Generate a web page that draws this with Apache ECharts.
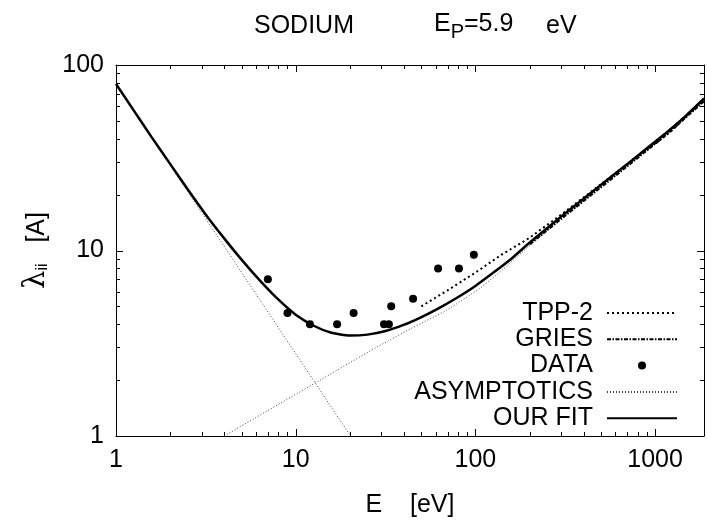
<!DOCTYPE html>
<html><head><meta charset="utf-8">
<script src="https://cdn.jsdelivr.net/npm/echarts@6/dist/echarts.min.js"></script>
<style>html,body{margin:0;padding:0;background:#fff}#c{width:707px;height:523px}</style>
</head><body><div id="c"></div>
<script>
// ---- data ----
const fitE = [1, 1.26, 1.585, 2.0, 2.51, 3.16, 3.98, 5.01, 6.31, 7.94, 10, 12.6, 15.8, 20, 25.1, 31.6, 39.8, 50.1, 63.1, 79.4, 100, 126, 158, 200, 319, 489, 748, 1146, 1480, 1871];
const fitL = [79, 56.6, 40.6, 29.3, 21.3, 15.6, 11.7, 8.9, 6.9, 5.48, 4.51, 3.93, 3.60, 3.48, 3.52, 3.68, 3.97, 4.38, 4.91, 5.58, 6.44, 7.6, 9.0, 11.0, 16.0, 22.2, 30.8, 42.9, 53, 66];
const tppE = [50, 70, 100, 140, 200, 300, 500, 800, 1200, 1871];
const tppL = [5.0, 6.1, 7.6, 9.5, 11.7, 15.6, 22.8, 32, 43, 65];
const griesE = [200, 319, 489, 748, 1146, 1871];
const griesL = [10.9, 15.7, 21.8, 30.3, 42.3, 64.5];
const dataE = [7, 9, 12, 17, 21, 31, 33, 34, 45, 62, 81, 98];
const dataL = [7.0, 4.6, 4.0, 4.0, 4.6, 4.0, 4.0, 5.0, 5.5, 8.0, 8.0, 9.5];
const asymLowE = [1, 20.2];
const asymLowL = [79, 1];
const asymHighE = [4, 28, 45, 69, 105, 140, 200, 319, 489, 748, 1146, 1871];
const asymHighL = [1, 3.0, 3.85, 4.75, 6.2, 7.8, 10.6, 15.5, 21.7, 30.2, 42.3, 65];
const xMajor = [1, 10, 100, 1000];
const xMinor = [2,3,4,5,6,7,8,9,20,30,40,50,60,70,80,90,200,300,400,500,600,700,800,900];
const yMajor = [1, 10, 100];
const yMinor = [2,3,4,5,6,7,8,9,20,30,40,50,60,70,80,90];
const xMin = 1, xMax = 1871, yMin = 1, yMax = 100;

const pairs = (xs, ys) => xs.map((x, i) => [x, ys[i]]);
const F = '"Liberation Sans", Arial, Helvetica, sans-serif';
const BLACK = '#000';

// tick marks (drawn through the axes' own scales)
const tickData = []
  .concat(xMajor.map(v => [v, yMin, 0, 1]))
  .concat(xMinor.map(v => [v, yMin, 0, 0]))
  .concat(yMajor.map(v => [xMin, v, 1, 1]))
  .concat(yMinor.map(v => [xMin, v, 1, 0]));

function renderTick(params, api) {
  const isY = api.value(2) === 1;
  const len = api.value(3) === 1 ? 7 : 4;
  const style = { stroke: BLACK, lineWidth: 1 };
  if (!isY) {
    const v = api.value(0);
    const b = api.coord([v, yMin]);
    const t = api.coord([v, yMax]);
    const x = Math.round(b[0]) + 0.5;
    return { type: 'group', children: [
      { type: 'line', shape: { x1: x, y1: b[1], x2: x, y2: b[1] - len }, style },
      { type: 'line', shape: { x1: x, y1: t[1], x2: x, y2: t[1] + len }, style }
    ] };
  } else {
    const v = api.value(1);
    const l = api.coord([xMin, v]);
    const r = api.coord([xMax, v]);
    const y = Math.round(l[1]) + 0.5;
    return { type: 'group', children: [
      { type: 'line', shape: { x1: l[0], y1: y, x2: l[0] + len, y2: y }, style },
      { type: 'line', shape: { x1: r[0], y1: y, x2: r[0] - len, y2: y }, style }
    ] };
  }
}

function xAx(pos, withLabels) {
  return {
    type: 'log', logBase: 10, min: xMin, max: xMax, position: pos,
    axisLine: { show: true, lineStyle: { color: BLACK, width: 1 } },
    axisTick: { show: false },
    axisLabel: { show: withLabels, fontSize: 25, color: BLACK, fontFamily: F, margin: 12,
                 formatter: v => (xMajor.indexOf(v) >= 0 ? String(v) : '') },
    splitLine: { show: false }, minorTick: { show: false }
  };
}
function yAx(pos, withLabels) {
  return {
    type: 'log', logBase: 10, min: yMin, max: yMax, position: pos,
    axisLine: { show: true, lineStyle: { color: BLACK, width: 1 } },
    axisTick: { show: false },
    axisLabel: { show: withLabels, fontSize: 25, color: BLACK, fontFamily: F, margin: 12,
                 formatter: v => (yMajor.indexOf(v) >= 0 ? String(v) : '') },
    splitLine: { show: false }, minorTick: { show: false }
  };
}

const xAxes = [xAx('bottom', true), xAx('top', false)];
xAxes[0].name = 'E    [eV]';
xAxes[0].nameLocation = 'middle';
xAxes[0].nameGap = 57;
xAxes[0].nameTextStyle = { fontSize: 25, color: BLACK, fontFamily: F };
const yAxes = [yAx('left', true), yAx('right', false)];
yAxes[0].name = '{l|λ}{s|ii}   [A]';
yAxes[0].nameLocation = 'middle';
yAxes[0].nameRotate = 90;
yAxes[0].nameGap = 62;
yAxes[0].nameTextStyle = { fontSize: 25, color: BLACK, fontFamily: F,
  rich: { l: { fontSize: 29, fontFamily: '"DejaVu Serif", serif', color: BLACK },
          s: { fontSize: 16, fontFamily: F, color: BLACK, padding: [12, 0, 0, 0] } } };

const hideSym = { color: 'rgba(0,0,0,0)', borderWidth: 0 };

const chart = echarts.init(document.getElementById('c'), null, { renderer: 'canvas' });
chart.setOption({
  backgroundColor: '#fff',
  animation: false,
  title: [
    { text: 'SODIUM', left: 249, top: 9, textStyle: { fontSize: 25, fontWeight: 'normal', color: BLACK, fontFamily: F } },
    { text: 'E{s|P}=5.9', left: 429, top: 1, textStyle: { fontSize: 25, fontWeight: 'normal', color: BLACK, fontFamily: F,
        rich: { s: { fontSize: 20, fontFamily: F, color: BLACK, padding: [16, 0, 0, 0] } } } },
    { text: 'eV', left: 541, top: 9, textStyle: { fontSize: 25, fontWeight: 'normal', color: BLACK, fontFamily: F } }
  ],
  grid: { left: 116, right: 2, top: 65, bottom: 85, containLabel: false },
  xAxis: xAxes,
  yAxis: yAxes,
  legend: {
    data: [
      { name: 'TPP-2', itemStyle: hideSym },
      { name: 'GRIES', itemStyle: hideSym },
      { name: 'DATA', icon: 'circle' },
      { name: 'ASYMPTOTICS', itemStyle: hideSym },
      { name: 'OUR FIT', itemStyle: hideSym }
    ],
    orient: 'vertical', align: 'right', right: 29, top: 300, padding: 0,
    itemWidth: 70, itemHeight: 8, itemGap: 0.3, selectedMode: false,
    textStyle: { fontSize: 25, color: BLACK, fontFamily: F, lineHeight: 26, padding: [0, 9, 0, 0] }
  },
  series: [
    { name: 'TPP-2', type: 'line', symbol: 'none', data: pairs(tppE, tppL), z: 3,
      lineStyle: { color: BLACK, width: 2, type: [2, 3] }, itemStyle: { color: BLACK } },
    { name: 'GRIES', type: 'line', symbol: 'none', data: pairs(griesE, griesL), z: 5,
      lineStyle: { color: BLACK, width: 3.5, type: [4, 1.5, 1.5, 1.5] }, itemStyle: { color: BLACK } },
    { name: 'DATA', type: 'scatter', symbol: 'circle', symbolSize: 8, data: pairs(dataE, dataL), z: 6,
      itemStyle: { color: BLACK, opacity: 1 } },
    { name: 'ASYMPTOTICS', type: 'line', symbol: 'none', data: pairs(asymLowE, asymLowL), z: 2,
      lineStyle: { color: '#444', width: 1, type: [1, 2] }, itemStyle: { color: '#444' } },
    { name: 'ASYMPTOTICS', type: 'line', symbol: 'none', data: pairs(asymHighE, asymHighL), z: 2,
      lineStyle: { color: '#444', width: 1, type: [1, 2] }, itemStyle: { color: '#444' } },
    { name: 'OUR FIT', type: 'line', symbol: 'none', data: pairs(fitE, fitL), z: 4, smooth: 0.2,
      lineStyle: { color: BLACK, width: 2.5 }, itemStyle: { color: BLACK } },
    { name: 'ticks', type: 'custom', renderItem: renderTick, data: tickData, clip: false, silent: true, z: 7,
      encode: { x: 0, y: 1 } }
  ]
});
</script>
</body></html>
